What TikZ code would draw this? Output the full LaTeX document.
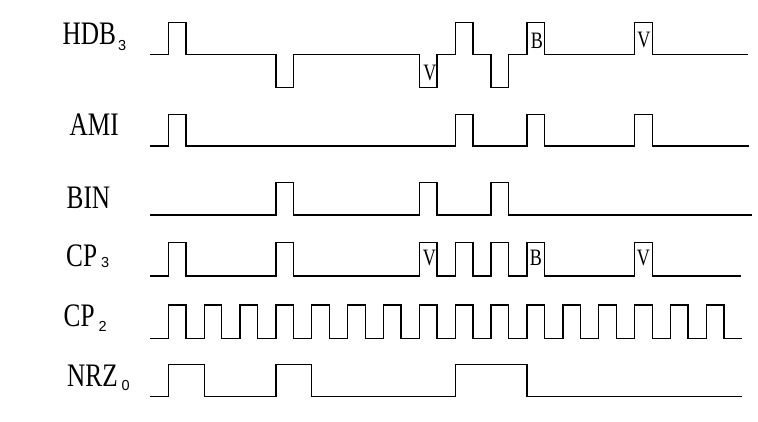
\documentclass[tikz,border=0pt]{standalone}
\usepackage{fontspec}
\setmainfont{Liberation Serif}
\newfontfamily\labelfont[FakeStretch=0.77]{Liberation Serif}
\newfontfamily\subfont{Liberation Sans}
\begin{document}
\begin{tikzpicture}[x=1pt, y=-1pt,
    wave/.style={line width=1.3pt},
    lbl/.style={anchor=base west, inner sep=0pt, font=\labelfont\fontsize{32.8}{34}\selectfont},
    tag/.style={anchor=base, inner sep=0pt, font=\labelfont\fontsize{23.5}{25}\selectfont}]

        \useasboundingbox (0,0) rectangle (758,421);

        % ------------------ Signal names ------------------

        \node[lbl] (hdb) at (62.5,44.3) {HDB\hspace{2pt}\raisebox{-6pt}{\subfont\fontsize{14.5}{16}\selectfont 3}};
        \node[lbl] (ami) at (69.5,135.7) {AMI};
        \node[lbl] (bin) at (66.5,208.3) {BIN};
        \node[lbl] (cpthree) at (66,266.7) {CP\hspace{4pt}\raisebox{-0.5pt}{\subfont\fontsize{14.5}{16}\selectfont 3}};
        \node[lbl] (cptwo) at (63.5,326.7) {CP\hspace{4pt}\raisebox{-4.5pt}{\subfont\fontsize{14.5}{16}\selectfont 2}};
        \node[lbl] (nrz) at (67,386.7) {NRZ\hspace{4pt}\raisebox{-3.5pt}{\subfont\fontsize{14.5}{16}\selectfont 0}};

        % ------------------ Waveforms ------------------

        % HDB3
        \draw[wave] (150,54.3) -| (168.3,22.3) -| (186,54.3) -| (275.9,87.3) -| (293.6,54.3)
            -| (419.4,87.3) -| (437,54.3) -| (455.3,22.3) -| (472.9,54.3) -| (491.1,87.3)
            -| (508.7,54.3) -| (527,22.3) -| (544.6,54.3) -| (634.6,22.3) -| (652.2,54.3) -- (747.7,54.3);

        % AMI
        \draw[wave] (150,146) -| (168.3,114.3) -| (186,146) -| (455.3,114.3) -| (472.9,146)
            -| (527,114.3) -| (544.6,146) -| (634.6,114.3) -| (652.2,146) -- (749.3,146);

        % BIN
        \draw[wave] (150,215) -| (275.9,182.3) -| (293.6,215) -| (419.4,182.3) -| (437,215)
            -| (491.1,182.3) -| (508.7,215) -- (751.7,215);

        % CP3
        \draw[wave] (150,276) -| (168.3,242.3) -| (186,276) -| (275.9,242.3) -| (293.6,276)
            -| (419.4,242.3) -| (437,276) -| (455.3,242.3) -| (472.9,276) -| (491.1,242.3)
            -| (508.7,276) -| (527,242.3) -| (544.6,276) -| (634.6,242.3) -| (652.2,276) -- (740.7,276);

        % CP2
        \draw[wave] (150,338.3) \foreach \k in {0,...,15} {
            -| ({168.3+35.87*\k},305) -| ({185.9+35.87*\k},338.3) } -- (742,338.3);

        % NRZ0
        \draw[wave] (150,396.7) -| (168.3,364.3) -| (204.2,396.7) -| (275.9,364.3) -| (311.8,396.7)
            -| (455.3,364.3) -| (527,396.7) -- (741.7,396.7);

        % V and B marks
        \node[tag] (hdbv1) at (430,80.5) {V};
        \node[tag] (hdbb) at (537,48.3) {B};
        \node[tag] (hdbv2) at (644,47.7) {V};
        \node[tag] (cpv1) at (429.3,265) {V};
        \node[tag] (cpb) at (536,265) {B};
        \node[tag] (cpv2) at (643.3,265) {V};

    \end{tikzpicture}
\end{document}
